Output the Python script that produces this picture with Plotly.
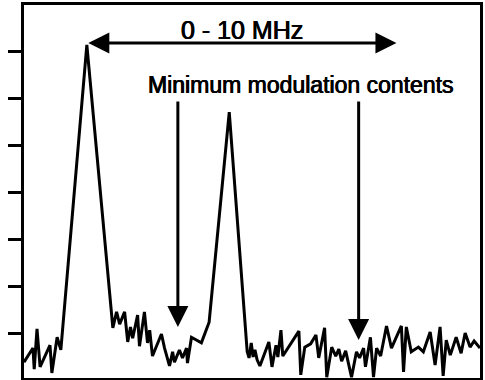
import plotly.graph_objects as go

# Frequency axis (MHz) and spectrum amplitude (arbitrary units)
freq_mhz = [-2.03, -1.74, -1.70, -1.61, -1.51, -1.19, -1.13, -0.96, -0.84, 0.00,
            0.84, 0.96, 1.06, 1.22, 1.32, 1.41, 1.48, 1.64, 1.70, 1.86,
            1.96, 2.03, 2.12, 2.41, 2.51, 2.67, 2.77, 2.83, 2.99, 3.09,
            3.22, 3.25, 3.38, 3.70, 3.95, 4.60, 5.18, 5.24, 5.31, 5.37,
            5.43, 5.50, 5.59, 5.88, 5.98, 6.11, 6.17, 6.27, 6.33, 6.85,
            6.91, 7.04, 7.23, 7.40, 7.49, 7.68, 7.75, 7.91, 8.04, 8.14,
            8.23, 8.36, 8.55, 8.71, 8.81, 8.94, 9.00, 9.16, 9.26, 9.36,
            9.49, 9.68, 9.84, 10.16, 10.23, 10.32, 10.48, 10.71, 10.87, 11.09,
            11.25, 11.41, 11.51, 11.61, 11.74, 11.93, 12.09, 12.22, 12.38, 12.51,
            12.70]
amplitude = [0.38, 0.68, 0.23, 1.09, 0.28, 0.74, 0.15, 0.91, 0.64, 7.13,
             1.11, 1.45, 1.19, 1.45, 0.81, 1.13, 0.89, 1.38, 0.72, 1.45,
             0.79, 1.06, 0.51, 0.98, 0.68, 0.30, 0.60, 0.38, 0.64, 0.47,
             0.68, 0.36, 0.91, 0.79, 1.23, 5.70, 0.60, 0.47, 0.79, 0.49,
             0.64, 0.43, 0.30, 0.81, 0.28, 0.74, 0.49, 1.06, 0.51, 1.04,
             0.11, 0.70, 0.77, 0.96, 0.47, 1.11, 0.06, 0.70, 0.51, 0.66,
             0.40, 0.62, 0.06, 0.60, 0.47, 0.68, 0.28, 0.91, 0.06, 0.68,
             0.51, 1.15, 0.68, 1.15, 0.17, 1.13, 0.60, 0.70, 0.60, 1.02,
             0.32, 1.13, 0.09, 0.85, 0.53, 0.91, 0.57, 1.00, 0.70, 0.83,
             0.68]

y_ticks = [1, 2, 3, 4, 5, 6, 7]
x_range = [-2.03, 12.70]
y_range = [0.043, 7.98]

band_start, band_end, band_y = 0.0, 10.0, 7.17
band_label = "0 - 10 MHz"
min_label = "Minimum modulation contents"
min_marks_x = [2.94, 8.78]
min_marks_tip = [1.13, 0.85]
min_marks_tail = 5.96

FONT = "Liberation Sans, Arial, Helvetica, sans-serif"
HEAVY = "0.45px 0 0 #000, -0.45px 0 0 #000"

fig = go.Figure()
fig.add_trace(go.Scatter(x=freq_mhz, y=amplitude, mode="lines",
                         line=dict(color="black", width=3), hoverinfo="skip"))

annotations = [
    dict(x=band_end, y=band_y, ax=band_start, ay=band_y, xref="x", yref="y",
         axref="x", ayref="y", text="", showarrow=True, arrowhead=2,
         startarrowhead=2, arrowside="end+start", arrowwidth=3, arrowsize=1.4,
         startarrowsize=1.4, arrowcolor="black"),
    dict(x=5.02, y=7.45, xref="x", yref="y", text=band_label, showarrow=False,
         font=dict(family=FONT, size=25, color="black", shadow=HEAVY),
         xanchor="center", yanchor="middle"),
    dict(x=6.91, y=6.27, xref="x", yref="y", text=min_label, showarrow=False,
         font=dict(family=FONT, size=23, color="black", shadow=HEAVY),
         xanchor="center", yanchor="middle"),
]
for mx, tip in zip(min_marks_x, min_marks_tip):
    annotations.append(dict(x=mx, y=tip, ax=mx, ay=min_marks_tail, xref="x", yref="y",
                            axref="x", ayref="y", text="", showarrow=True, arrowhead=2,
                            arrowwidth=3, arrowsize=1.4, arrowcolor="black"))

fig.update_layout(
    width=485, height=380,
    margin=dict(l=24, r=3, t=5, b=2),
    paper_bgcolor="white", plot_bgcolor="white",
    showlegend=False,
    annotations=annotations,
    xaxis=dict(range=x_range, showgrid=False, zeroline=False, showticklabels=False,
               ticks="", showline=True, linecolor="black", linewidth=3, mirror=True),
    yaxis=dict(range=y_range, showgrid=False, zeroline=False, showticklabels=False,
               tickmode="array", tickvals=y_ticks, ticks="outside", ticklen=13,
               tickwidth=3, tickcolor="black",
               showline=True, linecolor="black", linewidth=3, mirror=True),
)

fig.write_html("out.html")
